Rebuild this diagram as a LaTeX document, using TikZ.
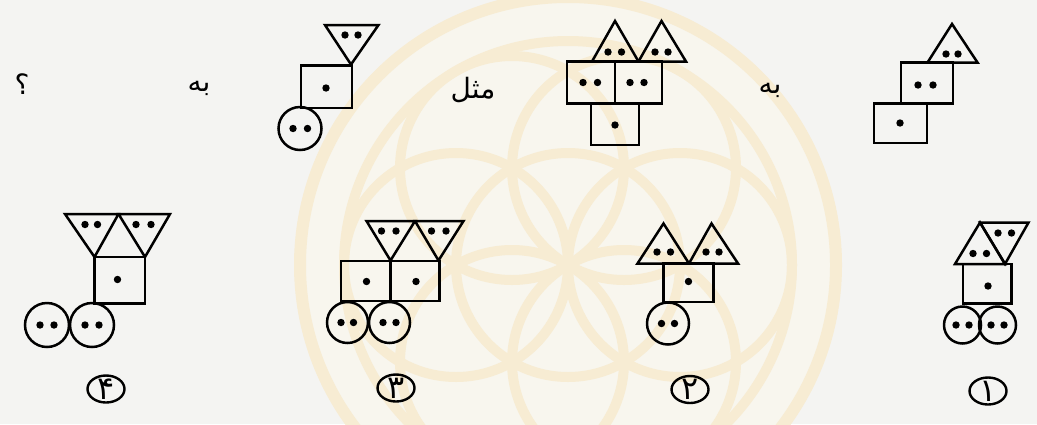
\documentclass[tikz,border=0pt]{standalone}
\usepackage{fontspec}
\newfontfamily\arabicfont[Script=Arabic]{DejaVu Sans}
\TeXXeTstate=1
\usetikzlibrary{shapes.geometric}
\definecolor{paper}{RGB}{244,244,242}
\definecolor{wmline}{RGB}{247,236,211}
\definecolor{wmfill}{RGB}{248,246,238}

\begin{document}
\begin{tikzpicture}[x=0.5pt, y=-0.5pt,
	every node/.style={font=\fontsize{14}{16}\selectfont\arabicfont},
	shp/.style={line width=1.25pt, line join=miter},
	dot/.style={fill=black},
	optring/.style={draw, ellipse, line width=1.2pt, minimum width=18.5pt, minimum height=13.5pt, inner sep=0pt},
	optnum/.style={inner sep=0pt, font=\fontsize{16}{16}\selectfont\arabicfont},
	wm/.style={draw=wmline, line width=5pt}]
	\useasboundingbox (0,0) rectangle (1037,424);
	\fill[paper] (0,0) rectangle (1037,424);
	\begin{scope}
		\clip (0,0) rectangle (1037,424);
		\fill[wmfill] (568,265) circle (268);
		\draw[wm, line width=6pt] (568,265) circle (268);
		\draw[wm] (568,265) circle (224);
		\draw[wm] (568,265) circle (112);
		\foreach \a in {0,60,...,300}
			\draw[wm, shift={(568,265)}] (\a:112) circle (112);
	\end{scope}
	% top row
	\draw[shp] (927.5,62.5) -- (952,24) -- (977.5,62.5) -- cycle;
	\draw[shp] (901,62.5) rectangle (953,103.5);
	\draw[shp] (874,103.5) rectangle (927,143);
	\fill[dot] (946,54) circle (3.7);
	\fill[dot] (958,54) circle (3.7);
	\fill[dot] (918,85) circle (3.7);
	\fill[dot] (933,85) circle (3.7);
	\fill[dot] (900,123) circle (3.7);
	\node (ba1) at (770,90) {\beginR به\endR};
	\draw[shp] (592,61.5) -- (615,21) -- (638.5,61.5) -- cycle;
	\draw[shp] (638.5,61.5) -- (661.5,21) -- (686,61.5) -- cycle;
	\draw[shp] (567,61.5) rectangle (615,103.5);
	\draw[shp] (615,61.5) rectangle (662,103.5);
	\draw[shp] (591,103.5) rectangle (639,145);
	\fill[dot] (608,52) circle (3.7);
	\fill[dot] (621.5,52) circle (3.7);
	\fill[dot] (655,52) circle (3.7);
	\fill[dot] (668,52) circle (3.7);
	\fill[dot] (583,82.5) circle (3.7);
	\fill[dot] (597.5,82.5) circle (3.7);
	\fill[dot] (630,82.5) circle (3.7);
	\fill[dot] (644,82.5) circle (3.7);
	\fill[dot] (615,125) circle (3.7);
	\node (mesl) at (473,90) {\beginR مثل\endR};
	\draw[shp] (325,25) -- (378.5,25) -- (351,64.5) -- cycle;
	\draw[shp] (301,65.5) rectangle (352,108);
	\draw[shp] (300,128.5) circle (21.5);
	\fill[dot] (345,35) circle (3.7);
	\fill[dot] (358,35) circle (3.7);
	\fill[dot] (326,88) circle (3.7);
	\fill[dot] (293,128.5) circle (3.7);
	\fill[dot] (307.5,128.5) circle (3.7);
	\node (ba2) at (199,88) {\beginR به\endR};
	\node (qm) at (22,84) {؟};
	% options
	\draw[shp] (955,264) -- (980,222.5) -- (1005,264) -- cycle;
	\draw[shp] (980,222.5) -- (1028.5,222.5) -- (1005,264) -- cycle;
	\draw[shp] (963,264) rectangle (1011.5,303.5);
	\draw[shp] (962.5,325) circle (18.5);
	\draw[shp] (997.5,325) circle (18.5);
	\fill[dot] (973,253.5) circle (3.7);
	\fill[dot] (986.5,253.5) circle (3.7);
	\fill[dot] (998,233) circle (3.7);
	\fill[dot] (1011.5,233) circle (3.7);
	\fill[dot] (988,286) circle (3.7);
	\fill[dot] (956,325) circle (3.7);
	\fill[dot] (969,325) circle (3.7);
	\fill[dot] (991,325) circle (3.7);
	\fill[dot] (1004,325) circle (3.7);
	\node[optring] (opt1) at (988,391) {};
	\node[optnum] (num1) at (opt1) {۱};
	\draw[shp] (637.5,263.5) -- (663.5,223.5) -- (689,263.5) -- cycle;
	\draw[shp] (689,263.5) -- (711.5,223.5) -- (738,263.5) -- cycle;
	\draw[shp] (663.5,263.5) rectangle (713.5,302);
	\draw[shp] (668,323.5) circle (21);
	\fill[dot] (657,252) circle (3.7);
	\fill[dot] (670.5,252) circle (3.7);
	\fill[dot] (706,252) circle (3.7);
	\fill[dot] (719,252) circle (3.7);
	\fill[dot] (688.5,281.5) circle (3.7);
	\fill[dot] (661.5,323.5) circle (3.7);
	\fill[dot] (674.5,323.5) circle (3.7);
	\node[optring] (opt2) at (690,389.5) {};
	\node[optnum] (num2) at (opt2) {۲};
	\draw[shp] (366.5,221) -- (415,221) -- (390.5,260.5) -- cycle;
	\draw[shp] (415,221) -- (463.5,221) -- (438.5,260.5) -- cycle;
	\draw[shp] (341,261) rectangle (390.5,301);
	\draw[shp] (390.5,261) rectangle (439.5,301);
	\draw[shp] (347.5,322.5) circle (20.5);
	\draw[shp] (389.5,322.5) circle (20.5);
	\fill[dot] (381.5,231) circle (3.7);
	\fill[dot] (396,231) circle (3.7);
	\fill[dot] (431.5,231) circle (3.7);
	\fill[dot] (446,231) circle (3.7);
	\fill[dot] (366.5,281.5) circle (3.7);
	\fill[dot] (416,281.5) circle (3.7);
	\fill[dot] (341,322.5) circle (3.7);
	\fill[dot] (353.5,322.5) circle (3.7);
	\fill[dot] (383,322.5) circle (3.7);
	\fill[dot] (396,322.5) circle (3.7);
	\node[optring] (opt3) at (396,388) {};
	\node[optnum] (num3) at (opt3) {۳};
	\draw[shp] (65,214) -- (118.5,214) -- (94.5,257) -- cycle;
	\draw[shp] (118.5,214) -- (170,214) -- (145,257) -- cycle;
	\draw[shp] (94.5,257) rectangle (145,303.5);
	\draw[shp] (47,325) circle (22);
	\draw[shp] (92,325) circle (22);
	\fill[dot] (85,224.5) circle (3.7);
	\fill[dot] (97.5,224.5) circle (3.7);
	\fill[dot] (136,224.5) circle (3.7);
	\fill[dot] (151,224.5) circle (3.7);
	\fill[dot] (117.5,279.5) circle (3.7);
	\fill[dot] (40,325) circle (3.7);
	\fill[dot] (54,325) circle (3.7);
	\fill[dot] (85,325) circle (3.7);
	\fill[dot] (99,325) circle (3.7);
	\node[optring] (opt4) at (106,389) {};
	\node[optnum] (num4) at (opt4) {۴};
\end{tikzpicture}
\end{document}
